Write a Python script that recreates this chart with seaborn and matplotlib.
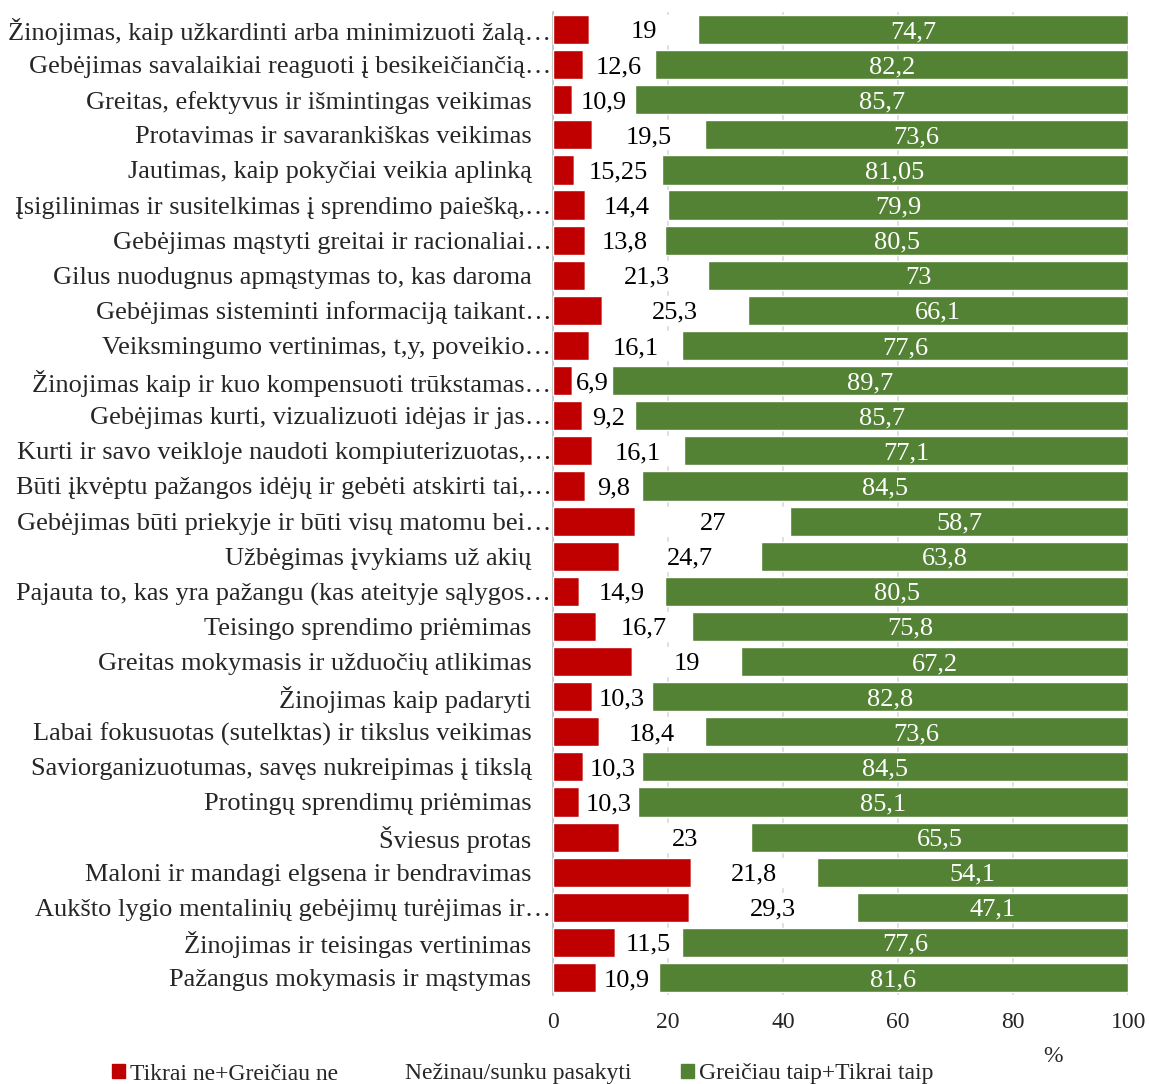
import pandas as pd
import matplotlib.pyplot as plt
import seaborn as sns
from matplotlib.patches import Patch

# Data
labels = [
    'Žinojimas, kaip užkardinti arba minimizuoti žalą…',
    'Gebėjimas savalaikiai reaguoti į besikeičiančią…',
    'Greitas, efektyvus ir išmintingas veikimas   ',
    'Protavimas ir savarankiškas veikimas   ',
    'Jautimas, kaip pokyčiai veikia aplinką   ',
    'Įsigilinimas ir susitelkimas į sprendimo paiešką,…',
    'Gebėjimas mąstyti greitai ir racionaliai…',
    'Gilus nuodugnus apmąstymas to, kas daroma   ',
    'Gebėjimas sisteminti informaciją taikant…',
    'Veiksmingumo vertinimas, t,y, poveikio…',
    'Žinojimas kaip ir kuo kompensuoti trūkstamas…',
    'Gebėjimas kurti, vizualizuoti idėjas ir jas…',
    'Kurti ir savo veikloje naudoti kompiuterizuotas,…',
    'Būti įkvėptu pažangos idėjų ir gebėti atskirti tai,…',
    'Gebėjimas būti priekyje ir būti visų matomu bei…',
    'Užbėgimas įvykiams už akių   ',
    'Pajauta to, kas yra pažangu (kas ateityje sąlygos…',
    'Teisingo sprendimo priėmimas   ',
    'Greitas mokymasis ir užduočių atlikimas   ',
    'Žinojimas kaip padaryti   ',
    'Labai fokusuotas (sutelktas) ir tikslus veikimas   ',
    'Saviorganizuotumas, savęs nukreipimas į tikslą   ',
    'Protingų sprendimų priėmimas   ',
    'Šviesus protas   ',
    'Maloni ir mandagi elgsena ir bendravimas   ',
    'Aukšto lygio mentalinių gebėjimų turėjimas ir…',
    'Žinojimas ir teisingas vertinimas   ',
    'Pažangus mokymasis ir mąstymas   ',
]
negative = [6.3, 5.2, 3.4, 6.9, 3.7, 5.7, 5.7, 5.7, 8.6, 6.3, 3.4, 5.1, 6.8, 5.7,
            14.3, 11.5, 4.6, 7.5, 13.8, 6.9, 8.0, 5.2, 4.6, 11.5, 24.1, 23.6, 10.9, 7.5]
neutral = [19, 12.6, 10.9, 19.5, 15.25, 14.4, 13.8, 21.3, 25.3, 16.1, 6.9, 9.2, 16.1, 9.8,
           27, 24.7, 14.9, 16.7, 19, 10.3, 18.4, 10.3, 10.3, 23, 21.8, 29.3, 11.5, 10.9]
positive = [74.7, 82.2, 85.7, 73.6, 81.05, 79.9, 80.5, 73, 66.1, 77.6, 89.7, 85.7, 77.1, 84.5,
            58.7, 63.8, 80.5, 75.8, 67.2, 82.8, 73.6, 84.5, 85.1, 65.5, 54.1, 47.1, 77.6, 81.6]
series_names = ['Tikrai ne+Greičiau ne', 'Nežinau/sunku pasakyti', 'Greičiau taip+Tikrai taip']

df = pd.DataFrame({'label': labels, 'neg': negative, 'neu': neutral, 'pos': positive})
df['neu_left'] = df['neg']
df['pos_left'] = df['neg'] + df['neu']

sns.set_style('white')
plt.rcParams['font.family'] = ['Liberation Serif', 'DejaVu Serif']

red = '#c00000'
green = '#548235'

fig = plt.figure(figsize=(11.49, 10.84), dpi=100)
ax = fig.add_axes([0.481, 0.082, 0.501, 0.907])

sns.barplot(data=df, y='label', x='neg', color=red, width=0.83, saturation=1,
            orient='h', ax=ax, zorder=3)
sns.barplot(data=df, y='label', x='neu', left=df['neu_left'], color='white', width=0.83,
            saturation=1, orient='h', ax=ax, zorder=3)
sns.barplot(data=df, y='label', x='pos', left=df['pos_left'], color=green, width=0.83,
            saturation=1, orient='h', ax=ax, zorder=3)

fs = 19
def fmt(v):
    return ('%g' % v).replace('.', ',')

for i, row in df.iterrows():
    ax.text(row['neu_left'] + row['neu'] / 2, i, fmt(row['neu']), ha='center',
            va='center_baseline', fontsize=fs, color='black', zorder=4)
    ax.text(row['pos_left'] + row['pos'] / 2, i, fmt(row['pos']), ha='center',
            va='center_baseline', fontsize=fs, color='white', zorder=4)

ax.set_xlim(0, 100)
ax.set_ylim(len(labels) - 0.5, -0.5)
ax.set_xticks([0, 20, 40, 60, 80, 100])
ax.tick_params(axis='x', labelsize=17, length=0, pad=12)
ax.tick_params(axis='y', labelsize=fs, length=0, pad=1)
for t in ax.get_yticklabels():
    t.set_verticalalignment('center_baseline')
ax.set_ylabel('')
ax.set_xlabel('')
ax.grid(axis='x', color='#d9d9d9', linewidth=1.2, zorder=0)
ax.set_axisbelow(True)
for s in ['top', 'right', 'bottom']:
    ax.spines[s].set_visible(False)
ax.spines['left'].set_color('#bfbfbf')
ax.spines['left'].set_linewidth(1.2)

fig.text(1053 / 1149, 1 - 1057 / 1084, '%', ha='center', va='center', fontsize=17)

handles = [Patch(color=red), Patch(color='none'), Patch(color=green)]
fig.legend(handles, series_names, loc='center', bbox_to_anchor=(0.455, 1 - 1074 / 1084),
           ncol=3, frameon=False, fontsize=17, handlelength=0.55, handleheight=0.55,
           handletextpad=0.2, columnspacing=2.1)

plt.savefig('out.png', dpi=100)
